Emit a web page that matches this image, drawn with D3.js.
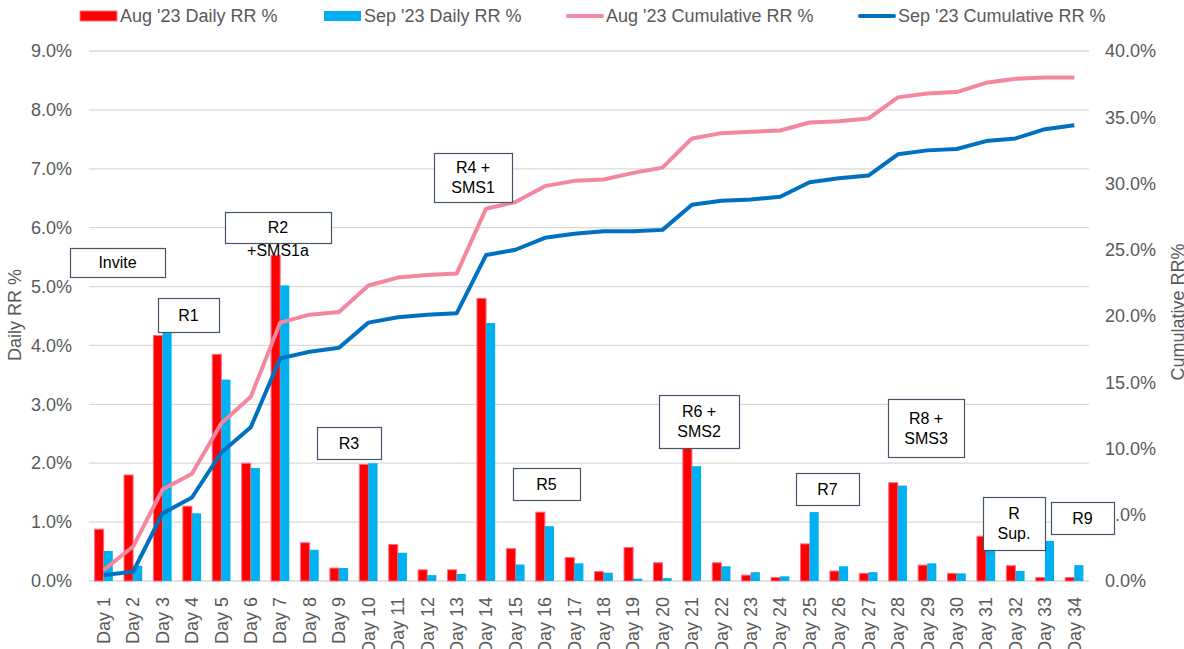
<!DOCTYPE html>
<html>
<head>
<meta charset="utf-8">
<script src="https://cdn.jsdelivr.net/npm/d3@7"></script>
<style>
	body { margin: 0; background: #fff; }
	svg { display: block; font-family: "Liberation Sans", Arial, sans-serif; }
</style>
</head>
<body>
<div id="chart"></div>
<script>
'use strict';

var days = d3.range(1, 35).map(function (d) { return 'Day ' + d; });

var augDaily = [0.88, 1.80, 4.17, 1.27, 3.85, 2.00, 5.53, 0.65, 0.22, 1.98,
	0.62, 0.19, 0.19, 4.80, 0.55, 1.17, 0.40, 0.16, 0.57, 0.31,
	2.30, 0.31, 0.10, 0.06, 0.63, 0.17, 0.13, 1.67, 0.27, 0.13,
	0.76, 0.26, 0.06, 0.06];

var sepDaily = [0.51, 0.26, 4.25, 1.15, 3.42, 1.92, 5.02, 0.53, 0.22, 2.00,
	0.48, 0.10, 0.12, 4.38, 0.28, 0.93, 0.30, 0.14, 0.04, 0.05,
	1.95, 0.25, 0.15, 0.08, 1.17, 0.25, 0.15, 1.62, 0.30, 0.13,
	0.55, 0.17, 0.68, 0.27];

var augCum = [0.83, 2.6, 6.9, 8.1, 11.9, 13.9, 19.5, 20.1, 20.3, 22.3,
	22.9, 23.1, 23.2, 28.1, 28.6, 29.8, 30.2, 30.3, 30.8, 31.2,
	33.4, 33.8, 33.9, 34.0, 34.6, 34.7, 34.9, 36.5, 36.8, 36.9,
	37.6, 37.9, 38.0, 38.0];

var sepCum = [0.45, 0.7, 5.1, 6.3, 9.7, 11.6, 16.8, 17.3, 17.6, 19.5,
	19.9, 20.1, 20.2, 24.6, 25.0, 25.9, 26.2, 26.4, 26.4, 26.5,
	28.4, 28.7, 28.8, 29.0, 30.1, 30.4, 30.6, 32.2, 32.5, 32.6,
	33.2, 33.4, 34.1, 34.4];

var leftTicks = d3.range(0, 10);
var rightTicks = d3.range(0, 45, 5);

var noteLabels = [['Invite'], ['R1'], ['R2'], ['R3'], ['R4 +', 'SMS1'], ['R5'],
	['R6 +', 'SMS2'], ['R7'], ['R8 +', 'SMS3'], ['R', 'Sup.'], ['R9']];

// box layout for the callouts (x, y, w, h in px)
var noteBoxes = [
	[70, 248, 95, 29], [158, 298, 61, 34], [225, 212, 106, 31], [317, 427, 64, 32],
	[434, 153, 78, 49], [513, 468, 67, 32], [659, 395, 80, 53], [796, 473, 63, 32],
	[888, 399, 76, 58], [983, 497, 62, 53], [1051, 502, 63, 32]
];

var W = 1184, H = 649,
	m = { left: 89, right: 95, top: 51, bottom: 68 },
	colors = {
		aug: '#ff0000', augStroke: '#ff6f8e', sep: '#00b0f0',
		augLine: '#f4869f', sepLine: '#0070c0',
		grid: '#d9d9d9', text: '#595959', box: '#44546a'
	};

var svg = d3.select('#chart').append('svg')
	.attr('width', W).attr('height', H);

var x = d3.scaleBand().domain(days)
	.range([m.left, W - m.right])
	.paddingInner(0.38).paddingOuter(0.19);

var xs = d3.scaleBand().domain(['aug', 'sep']).range([0, x.bandwidth()]);

var yL = d3.scaleLinear().domain([0, 9]).range([H - m.bottom, m.top]);
var yR = d3.scaleLinear().domain([0, 40]).range([H - m.bottom, m.top]);

// gridlines
svg.append('g')
	.selectAll('line').data(leftTicks.slice(1)).enter().append('line')
	.attr('x1', m.left).attr('x2', W - m.right)
	.attr('y1', function (d) { return yL(d); })
	.attr('y2', function (d) { return yL(d); })
	.style('stroke', colors.grid).style('stroke-width', 1.3);

// left axis
var gl = svg.append('g')
	.attr('transform', 'translate(' + (m.left - 17) + ',0)')
	.call(d3.axisLeft(yL).tickValues(leftTicks).tickSize(0).tickPadding(0)
		.tickFormat(function (d) { return d.toFixed(1) + '%'; }));

// right axis
var gr = svg.append('g')
	.attr('transform', 'translate(' + (W - m.right + 16) + ',0)')
	.call(d3.axisRight(yR).tickValues(rightTicks).tickSize(0).tickPadding(0)
		.tickFormat(function (d) { return d.toFixed(1) + '%'; }));

// bottom axis
var gb = svg.append('g')
	.attr('transform', 'translate(0,' + (H - m.bottom) + ')')
	.call(d3.axisBottom(x).tickSize(0).tickPadding(0));

[gl, gr, gb].forEach(function (g) {
	g.select('.domain').remove();
	g.selectAll('text')
		.style('font-family', '"Liberation Sans", Arial, sans-serif')
		.style('font-size', '18px')
		.style('fill', colors.text);
});

gb.selectAll('text')
	.attr('transform', 'rotate(-90)')
	.attr('x', -16).attr('y', 0).attr('dy', '0.35em')
	.style('text-anchor', 'end');

gb.append('line')
	.attr('x1', m.left).attr('x2', W - m.right)
	.style('stroke', colors.grid).style('stroke-width', 1.5);

// axis titles
svg.append('text')
	.attr('transform', 'translate(21,' + 315 + ') rotate(-90)')
	.style('text-anchor', 'middle').style('font-size', '18px').style('fill', colors.text)
	.text('Daily RR %');

svg.append('text')
	.attr('transform', 'translate(1184,' + 312 + ') rotate(-90)')
	.style('text-anchor', 'middle').style('font-size', '18px').style('fill', colors.text)
	.text('Cumulative RR%');

// bars
var bars = svg.append('g');
bars.selectAll('rect.aug').data(augDaily).enter().append('rect')
	.attr('class', 'aug')
	.attr('x', function (d, i) { return x(days[i]) + xs('aug'); })
	.attr('y', function (d) { return yL(d); })
	.attr('width', xs.bandwidth())
	.attr('height', function (d) { return yL(0) - yL(d); })
	.style('fill', colors.aug)
	.style('stroke', colors.augStroke).style('stroke-width', 1);

bars.selectAll('rect.sep').data(sepDaily).enter().append('rect')
	.attr('class', 'sep')
	.attr('x', function (d, i) { return x(days[i]) + xs('sep'); })
	.attr('y', function (d) { return yL(d); })
	.attr('width', xs.bandwidth())
	.attr('height', function (d) { return yL(0) - yL(d); })
	.style('fill', colors.sep);

// cumulative lines
var line = d3.line()
	.x(function (d, i) { return x(days[i]) + x.bandwidth() / 2; })
	.y(function (d) { return yR(d); });

svg.append('path').datum(augCum)
	.attr('d', line).style('fill', 'none')
	.style('stroke', colors.augLine).style('stroke-width', 4)
	.style('stroke-linejoin', 'round');

svg.append('path').datum(sepCum)
	.attr('d', line).style('fill', 'none')
	.style('stroke', colors.sepLine).style('stroke-width', 4)
	.style('stroke-linejoin', 'round');

// callout boxes
var notes = svg.append('g').selectAll('g').data(noteLabels).enter().append('g');
notes.append('rect')
	.attr('x', function (d, i) { return noteBoxes[i][0] + 0.5; })
	.attr('y', function (d, i) { return noteBoxes[i][1] + 0.5; })
	.attr('width', function (d, i) { return noteBoxes[i][2]; })
	.attr('height', function (d, i) { return noteBoxes[i][3]; })
	.style('fill', '#fff').style('stroke', colors.box).style('stroke-width', 1.2);
notes.each(function (d, i) {
	var b = noteBoxes[i], n = d.length,
		cy = b[1] + b[3] / 2 - (n - 1) * 10;
	d3.select(this).selectAll('text').data(d).enter().append('text')
		.attr('x', b[0] + b[2] / 2)
		.attr('y', function (t, j) { return cy + j * 20; })
		.attr('dy', '0.35em')
		.style('text-anchor', 'middle').style('font-size', '16px').style('fill', '#000')
		.text(function (t) { return t; });
});
// R2 note overflows its box
svg.append('text')
	.attr('x', 278).attr('y', 250).attr('dy', '0.35em')
	.style('text-anchor', 'middle').style('font-size', '16px').style('fill', '#000')
	.text('+SMS1a');

// legend
var legend = [
	{ name: "Aug '23 Daily RR %", type: 'bar', color: colors.aug, x: 80 },
	{ name: "Sep '23 Daily RR %", type: 'bar', color: colors.sep, x: 324 },
	{ name: "Aug '23 Cumulative RR %", type: 'line', color: colors.augLine, x: 566 },
	{ name: "Sep '23 Cumulative RR %", type: 'line', color: colors.sepLine, x: 858 }
];
var lg = svg.append('g').selectAll('g').data(legend).enter().append('g')
	.attr('transform', function (d) { return 'translate(' + d.x + ',16)'; });
lg.append('rect')
	.attr('x', 0)
	.attr('y', function (d) { return d.type === 'bar' ? -5 : -2; })
	.attr('width', function (d) { return d.type === 'bar' ? 37 : 38; })
	.attr('height', function (d) { return d.type === 'bar' ? 10 : 4; })
	.attr('rx', function (d) { return d.type === 'bar' ? 0 : 2; })
	.style('fill', function (d) { return d.color; })
	.style('stroke', function (d) { return d.type === 'bar' && d.color === colors.aug ? colors.augStroke : 'none'; });
lg.append('text')
	.attr('x', 40)
	.attr('dy', '0.35em')
	.style('font-size', '18px').style('fill', colors.text)
	.text(function (d) { return d.name; });
</script>
</body>
</html>
